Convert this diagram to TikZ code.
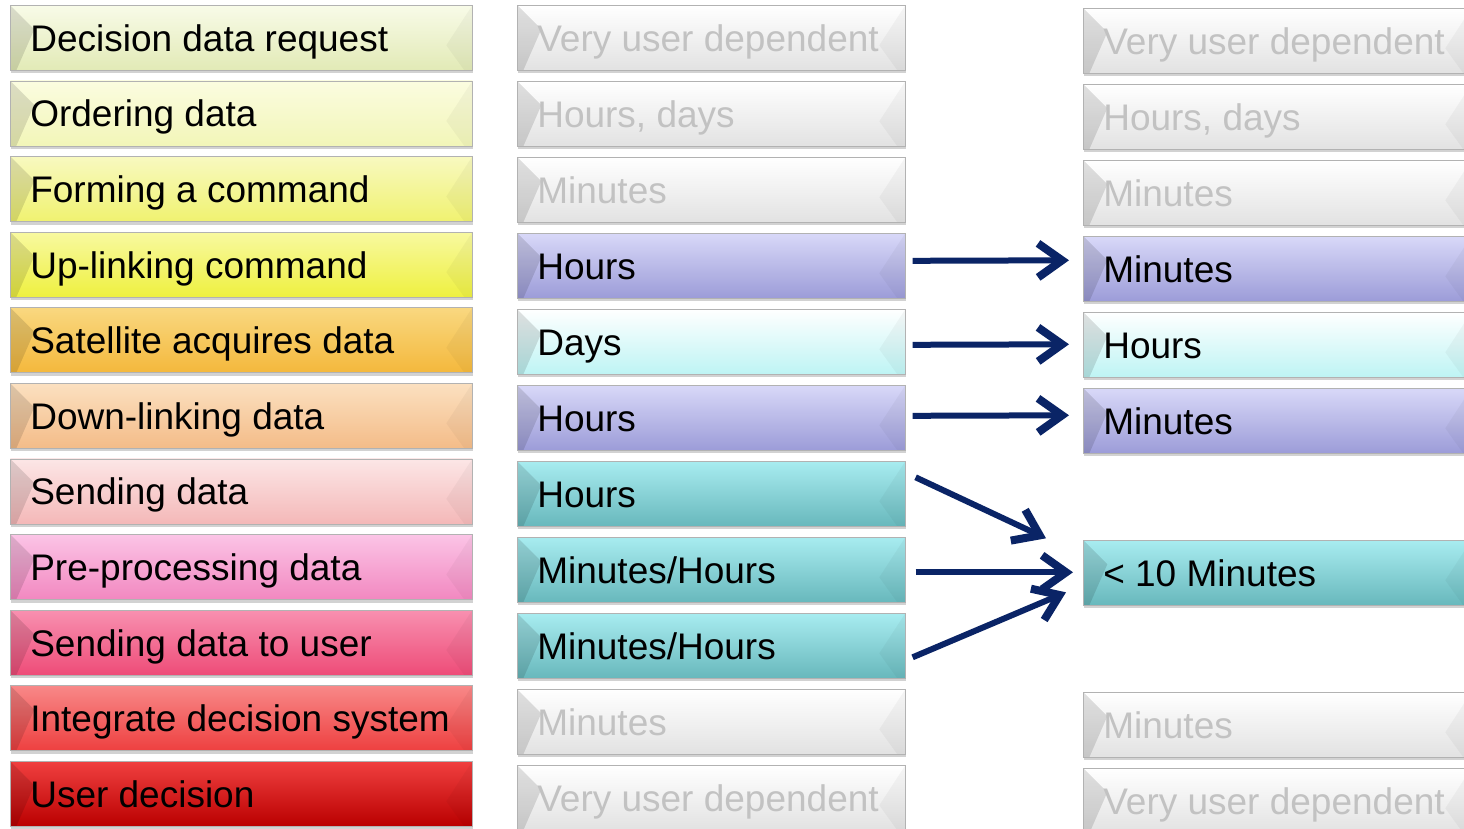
\documentclass[tikz,border=0pt]{standalone}
\usepackage{fontspec}
\setmainfont{Liberation Sans}
\usetikzlibrary{shadows,calc,arrows.meta}
\definecolor{navy}{HTML}{0A2466}
\definecolor{grt}{HTML}{C2C2C2}
\definecolor{aT}{HTML}{F8FBE8}\definecolor{aB}{HTML}{E2EAB6}
\definecolor{bT}{HTML}{FBFCE0}\definecolor{bB}{HTML}{F2F6B8}
\definecolor{cT}{HTML}{F8F9C0}\definecolor{cB}{HTML}{F0F270}
\definecolor{dT}{HTML}{F8F9A0}\definecolor{dB}{HTML}{EEF040}
\definecolor{eT}{HTML}{F9D880}\definecolor{eB}{HTML}{F4B83C}
\definecolor{fT}{HTML}{FBE0C0}\definecolor{fB}{HTML}{F4BC88}
\definecolor{gT}{HTML}{FCE6E6}\definecolor{gB}{HTML}{F4B8B8}
\definecolor{hT}{HTML}{FBC4E6}\definecolor{hB}{HTML}{F288C0}
\definecolor{iT}{HTML}{F890B0}\definecolor{iB}{HTML}{EE4C78}
\definecolor{jT}{HTML}{F88888}\definecolor{jB}{HTML}{EE4040}
\definecolor{kT}{HTML}{F04040}\definecolor{kB}{HTML}{BA0000}
\definecolor{pT}{HTML}{D8D8F8}\definecolor{pB}{HTML}{9C9CD8}
\definecolor{yT}{HTML}{FFFFFF}\definecolor{yB}{HTML}{BEF4F4}
\definecolor{tT}{HTML}{A8ECF0}\definecolor{tB}{HTML}{68B8BC}
\definecolor{zT}{HTML}{FFFFFF}\definecolor{zB}{HTML}{E2E2E2}
\tikzset{
  bbox/.style={rectangle, anchor=north west, minimum height=65pt, inner xsep=20pt, inner ysep=0pt,
    text height=27pt, text depth=0pt, draw=black!30, line width=0.6pt,
    font=\fontsize{37pt}{40pt}\selectfont,
    drop shadow={shadow xshift=1pt, shadow yshift=-3pt, opacity=0.35},
    path picture={
      \fill[black,opacity=0.12] (path picture bounding box.north west) -- ++(24pt,-24pt)
        -- ([xshift=6pt]path picture bounding box.south west) -- (path picture bounding box.south west) -- cycle;
      \fill[black,opacity=0.035] (path picture bounding box.north east) -- ++(-26pt,-40pt)
        -- ([xshift=-8pt]path picture bounding box.south east) -- (path picture bounding box.south east) -- cycle;
    }},
  arr/.style={draw=navy, line width=6pt, -{Straight Barb[length=24pt,width=34pt,line width=8pt]}}
}
\newcommand\bx[8]{\node[bbox, top color=#5, bottom color=#6, text=#7, minimum width=#4pt] (#1) at (#2,#3)
  {\makebox[\dimexpr#4pt-40pt\relax][l]{#8}};}
\begin{document}
\begin{tikzpicture}[x=1pt,y=-1pt]
\useasboundingbox[fill=white] (0,0) rectangle (1464,828);
% left column
\bx{l1}{10}{5}{462}{aT}{aB}{black}{Decision data request}
\bx{l2}{10}{80.6}{462}{bT}{bB}{black}{Ordering data}
\bx{l3}{10}{156.2}{462}{cT}{cB}{black}{Forming a command}
\bx{l4}{10}{231.8}{462}{dT}{dB}{black}{Up-linking command}
\bx{l5}{10}{307.4}{462}{eT}{eB}{black}{Satellite acquires data}
\bx{l6}{10}{383}{462}{fT}{fB}{black}{Down-linking data}
\bx{l7}{10}{458.6}{462}{gT}{gB}{black}{Sending data}
\bx{l8}{10}{534.2}{462}{hT}{hB}{black}{Pre-processing data}
\bx{l9}{10}{609.8}{462}{iT}{iB}{black}{Sending data to user}
\bx{l10}{10}{685.4}{462}{jT}{jB}{black}{Integrate decision system}
\bx{l11}{10}{761}{462}{kT}{kB}{black}{User decision}
% middle column
\bx{m1}{517}{5}{388}{zT}{zB}{grt}{Very user dependent}
\bx{m2}{517}{81}{388}{zT}{zB}{grt}{Hours, days}
\bx{m3}{517}{157}{388}{zT}{zB}{grt}{Minutes}
\bx{m4}{517}{233}{388}{pT}{pB}{black}{Hours}
\bx{m5}{517}{309}{388}{yT}{yB}{black}{Days}
\bx{m6}{517}{385}{388}{pT}{pB}{black}{Hours}
\bx{m7}{517}{461}{388}{tT}{tB}{black}{Hours}
\bx{m8}{517}{537}{388}{tT}{tB}{black}{Minutes/Hours}
\bx{m9}{517}{613}{388}{tT}{tB}{black}{Minutes/Hours}
\bx{m10}{517}{689}{388}{zT}{zB}{grt}{Minutes}
\bx{m11}{517}{765}{388}{zT}{zB}{grt}{Very user dependent}
% right column
\bx{r1}{1083}{8}{388}{zT}{zB}{grt}{Very user dependent}
\bx{r2}{1083}{84}{388}{zT}{zB}{grt}{Hours, days}
\bx{r3}{1083}{160}{388}{zT}{zB}{grt}{Minutes}
\bx{r4}{1083}{236}{388}{pT}{pB}{black}{Minutes}
\bx{r5}{1083}{312}{388}{yT}{yB}{black}{Hours}
\bx{r6}{1083}{388}{388}{pT}{pB}{black}{Minutes}
\bx{r8}{1083}{540}{388}{tT}{tB}{black}{< 10 Minutes}
\bx{r10}{1083}{692}{388}{zT}{zB}{grt}{Minutes}
\bx{r11}{1083}{768}{388}{zT}{zB}{grt}{Very user dependent}
% arrows
\draw[arr] ($(m4.east)+(7pt,5pt)$) -- ($(r4.west)+(-14pt,8.5pt)$);
\draw[arr] ($(m5.east)+(7pt,-3pt)$) -- ($(r5.west)+(-14pt,0.5pt)$);
\draw[arr] ($(m6.east)+(7pt,2pt)$) -- ($(r6.west)+(-14pt,5.5pt)$);
\draw[arr] ($(m7.east)+(10pt,16.5pt)$) -- ($(r8.west)+(-37pt,34.5pt)$);
\draw[arr] ($(m8.east)+(10pt,-2.5pt)$) -- ($(r8.west)+(-10pt,0.5pt)$);
\draw[arr] ($(m9.east)+(7pt,-11.5pt)$) -- ($(r8.west)+(-17pt,-19.5pt)$);
\end{tikzpicture}
\end{document}
